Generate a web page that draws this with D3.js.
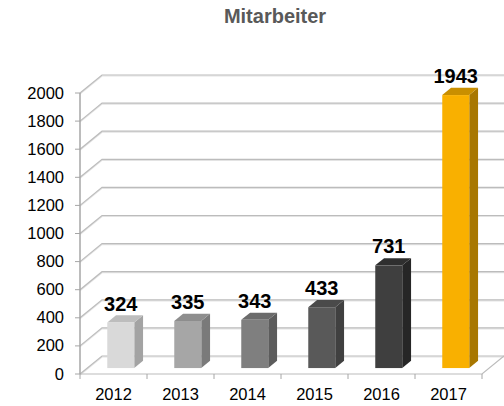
<!DOCTYPE html>
<html>
<head>
<meta charset="utf-8">
<script src="https://cdn.jsdelivr.net/npm/d3@7"></script>
<style>
  body { margin: 0; background: #fff; }
  text { font-family: "Liberation Sans", Arial, sans-serif; }
</style>
</head>
<body>
<div id="chart"></div>
<script>
// data
const years = ["2012", "2013", "2014", "2015", "2016", "2017"];
const staff = [324, 335, 343, 433, 731, 1943];
const yTicks = [0, 200, 400, 600, 800, 1000, 1200, 1400, 1600, 1800, 2000];
const barColors = ["#d9d9d9", "#a6a6a6", "#7f7f7f", "#595959", "#3f3f3f", "#f9b000"];
const sideColors = ["#a3a3a3", "#7a7a7a", "#5c5c5c", "#404040", "#262626", "#a87700"];
const topColors = ["#bdbdbd", "#8e8e8e", "#6b6b6b", "#4a4a4a", "#2f2f2f", "#c98f00"];

const W = 504, H = 406;
const svg = d3.select("#chart").append("svg")
    .attr("width", W)
    .attr("height", H);

// 3d depth of the walls
const depthX = 22, depthY = -18;

const x = d3.scaleBand()
    .domain(years)
    .range([80, 482]);

const y = d3.scaleLinear()
    .domain([0, 2000])
    .range([374, 93]);

// title
svg.append("text")
    .attr("x", 275)
    .attr("y", 23)
    .attr("text-anchor", "middle")
    .style("font-size", "20px")
    .style("font-weight", "bold")
    .style("fill", "#595959")
    .text("Mitarbeiter");

// back wall + left wall gridlines
const grid = svg.append("g");
yTicks.forEach(t => {
    const yy = y(t);
    [[1, "#e3e3e3"], [0, "#bcbcbc"]].forEach(([off, col]) => {
        grid.append("polyline")
            .attr("points", `80,${yy + off} ${80 + depthX},${yy + depthY + off} ${W},${yy + depthY + off}`)
            .attr("fill", "none")
            .attr("stroke", col)
            .attr("stroke-width", 1.2);
    });
});

// floor front edge and right edge
svg.append("polyline")
    .attr("points", `80,${y(0)} 482,${y(0)} ${482 + depthX},${y(0) + depthY}`)
    .attr("fill", "none")
    .attr("stroke", "#bcbcbc")
    .attr("stroke-width", 1.2);

// value axis line
svg.append("line")
    .attr("x1", 80).attr("x2", 80)
    .attr("y1", y(2000)).attr("y2", y(0))
    .attr("stroke", "#a6a6a6")
    .attr("stroke-width", 1.5);

// y ticks and labels
const yAxis = svg.append("g");
yTicks.forEach(t => {
    yAxis.append("line")
        .attr("x1", 75).attr("x2", 80)
        .attr("y1", y(t)).attr("y2", y(t))
        .attr("stroke", "#a6a6a6");
    yAxis.append("text")
        .attr("x", 64)
        .attr("y", y(t) + 5.5)
        .attr("text-anchor", "end")
        .style("font-size", "16.5px")
        .style("fill", "#000")
        .text(t);
});

// x ticks and labels
const xAxis = svg.append("g");
years.forEach((yr, i) => {
    const x0 = x(yr);
    xAxis.append("line")
        .attr("x1", x0).attr("x2", x0)
        .attr("y1", y(0)).attr("y2", y(0) + 5)
        .attr("stroke", "#a6a6a6");
    xAxis.append("text")
        .attr("x", x0 + x.bandwidth() / 2)
        .attr("y", 400)
        .attr("text-anchor", "middle")
        .style("font-size", "16.5px")
        .style("fill", "#000")
        .text(yr);
});
xAxis.append("line")
    .attr("x1", 482).attr("x2", 482)
    .attr("y1", y(0)).attr("y2", y(0) + 5)
    .attr("stroke", "#a6a6a6");

// bars (3d boxes)
const frontShift = 0.33, boxDepth = 0.4;
const barW = 27;
const bars = svg.append("g");
staff.forEach((v, i) => {
    const cx = x(years[i]) + x.bandwidth() / 2 + depthX * frontShift;
    const x0 = cx - barW / 2, x1 = cx + barW / 2;
    const yb = y(0) + depthY * frontShift;
    const yt = y(v) + depthY * frontShift;
    const dx = depthX * boxDepth, dy = depthY * boxDepth;
    // side
    bars.append("polygon")
        .attr("points", `${x1},${yt} ${x1 + dx},${yt + dy} ${x1 + dx},${yb + dy} ${x1},${yb}`)
        .attr("fill", sideColors[i]);
    // top
    bars.append("polygon")
        .attr("points", `${x0},${yt} ${x0 + dx},${yt + dy} ${x1 + dx},${yt + dy} ${x1},${yt}`)
        .attr("fill", topColors[i]);
    // front
    bars.append("rect")
        .attr("x", x0)
        .attr("y", yt)
        .attr("width", barW)
        .attr("height", yb - yt)
        .attr("fill", barColors[i]);
    // value label
    bars.append("text")
        .attr("x", cx)
        .attr("y", yt - 12)
        .attr("text-anchor", "middle")
        .style("font-size", "20px")
        .style("font-weight", "bold")
        .style("fill", "#000")
        .text(v);
});
</script>
</body>
</html>
